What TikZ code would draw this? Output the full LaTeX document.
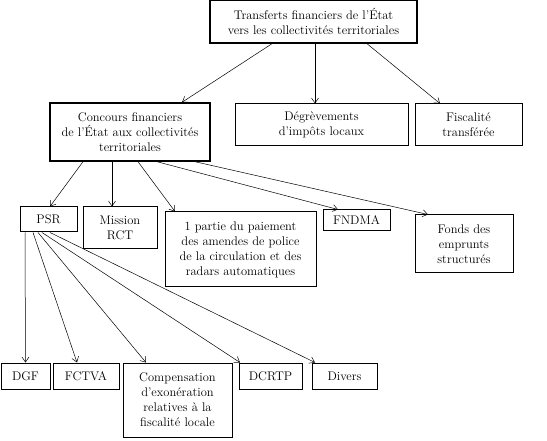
\documentclass[tikz,border=0pt]{standalone}
\usetikzlibrary{arrows.meta,positioning}

\begin{document}
\begin{tikzpicture}[x=1pt,y=-1pt,
    box/.style={draw=black,line width=1pt,align=center,inner sep=1pt,font=\fontsize{12.5}{15}\selectfont},
    mainbox/.style={box,line width=1.4pt},
    arr/.style={-{Straight Barb[length=5pt,width=7pt]},line width=0.5pt}
]
\useasboundingbox (0,0) rectangle (547,441);

% Level 1
\node[mainbox,minimum width=207pt,minimum height=43pt] (top) at (313.5,21.5) {Transferts financiers de l'État\\vers les collectivités territoriales};

% Level 2
\node[mainbox,minimum width=160pt,minimum height=58pt] (conc) at (130,132) {Concours financiers\\de l'État aux collectivités\\territoriales};
\node[box,minimum width=173pt,minimum height=42pt] (degrev) at (321.5,125) {Dégrèvements\\d'impôts locaux};
\node[box,minimum width=107pt,minimum height=42pt] (fisc) at (468.5,125) {Fiscalité\\transférée};

% Level 3
\node[box,minimum width=57pt,minimum height=25pt] (psr) at (48.5,219.5) {PSR};
\node[box,minimum width=74pt,minimum height=42pt] (mission) at (120,228) {Mission\\RCT};
\node[box,minimum width=151pt,minimum height=75pt] (partie) at (240.5,249.5) {1 partie du paiement\\des amendes de police\\de la circulation et des\\radars automatiques};
\node[box,minimum width=67pt,minimum height=21pt] (fndma) at (356.5,220.5) {FNDMA};
\node[box,minimum width=98pt,minimum height=58pt] (fonds) at (464,244) {Fonds des\\emprunts\\structurés};

% Level 4
\node[box,minimum width=49pt,minimum height=26pt] (dgf) at (25.5,376) {DGF};
\node[box,minimum width=66pt,minimum height=26pt] (fctva) at (86,376) {FCTVA};
\node[box,minimum width=109pt,minimum height=74pt] (comp) at (177.5,400) {Compensation\\d'exonération\\relatives à la\\fiscalité locale};
\node[box,minimum width=63pt,minimum height=26pt] (dcrtp) at (270.5,376) {DCRTP};
\node[box,minimum width=65pt,minimum height=26pt] (divers) at (344.5,376) {Divers};

% Arrows from the top box
\draw[arr] ([xshift=-41.5pt]top.south) -- ([xshift=52pt]conc.north);
\draw[arr] ([xshift=1.5pt]top.south) -- ([xshift=-6.5pt]degrev.north);
\draw[arr] ([xshift=53.5pt]top.south) -- ([xshift=-28.5pt]fisc.north);

% Arrows from the concours
\draw[arr] ([xshift=-47pt]conc.south) -- ([xshift=1.5pt]psr.north);
\draw[arr] ([xshift=-18pt]conc.south) -- ([xshift=-8pt]mission.north);
\draw[arr] ([xshift=8pt]conc.south) -- ([xshift=-65.5pt]partie.north);
\draw[arr] ([xshift=27pt]conc.south) -- ([xshift=-18.5pt]fndma.north);
\draw[arr] ([xshift=65pt]conc.south) -- ([xshift=-36pt]fonds.north);

% Arrows from PSR
\draw[arr] ([xshift=-23.5pt]psr.south) -- (dgf.north);
\draw[arr] ([xshift=-15.5pt]psr.south) -- ([xshift=-9pt]fctva.north);
\draw[arr] ([xshift=-10.5pt]psr.south) -- ([xshift=-31.5pt]comp.north);
\draw[arr] ([xshift=-6.5pt]psr.south) -- ([xshift=-30.5pt]dcrtp.north);
\draw[arr] ([xshift=1.5pt]psr.south) -- ([xshift=-29.5pt]divers.north);

\end{tikzpicture}
\end{document}
